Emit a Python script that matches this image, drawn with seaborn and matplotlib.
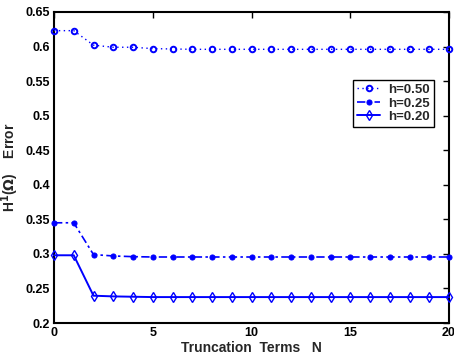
import matplotlib
matplotlib.use("Agg")
import matplotlib.pyplot as plt
import seaborn as sns
import pandas as pd
import numpy as np

sns.set_theme(style="white")
plt.rcParams['font.family'] = ['Liberation Sans', 'DejaVu Sans']
plt.rcParams['font.weight'] = 'bold'

N = list(range(21))
err_h050 = [0.623, 0.623, 0.602, 0.599, 0.599, 0.597, 0.5965, 0.596, 0.596, 0.596, 0.596,
            0.596, 0.596, 0.596, 0.596, 0.596, 0.596, 0.596, 0.596, 0.596, 0.596]
err_h025 = [0.345, 0.345, 0.299, 0.297, 0.296, 0.2955, 0.2955, 0.2955, 0.2955, 0.2955, 0.2955,
            0.2955, 0.2955, 0.2955, 0.2955, 0.2955, 0.2955, 0.2955, 0.2955, 0.2955, 0.2955]
err_h020 = [0.298, 0.298, 0.2395, 0.2385, 0.238, 0.2375, 0.2375, 0.2375, 0.2375, 0.2375, 0.2375,
            0.2375, 0.2375, 0.2375, 0.2375, 0.2375, 0.2375, 0.2375, 0.2375, 0.2375, 0.2375]
labels = ["h=0.50", "h=0.25", "h=0.20"]
xticks = [0, 5, 10, 15, 20]
yticks = [0.2, 0.25, 0.3, 0.35, 0.4, 0.45, 0.5, 0.55, 0.6, 0.65]

blue = (0, 0, 1)
fig = plt.figure(figsize=(4.54, 3.58), dpi=100)
ax = fig.add_axes([54/454, 1 - 323/358, 395/454, 311/358])

styles = [
    dict(linestyle=(0, (1, 2.5)), marker='o', markersize=4.0, markerfacecolor='none',
         markeredgewidth=1.4, linewidth=1.0),
    dict(linestyle=(0, (5, 2, 1.5, 2)), marker='o', markersize=3.6, markerfacecolor=blue,
         markeredgewidth=0.8, linewidth=1.2),
    dict(linestyle='-', marker='d', markersize=5.2, markerfacecolor='none',
         markeredgewidth=1.0, linewidth=1.4),
]
for vals, lab, st in zip([err_h050, err_h025, err_h020], labels, styles):
    df = pd.DataFrame({"N": N, "Error": vals})
    sns.lineplot(data=df, x="N", y="Error", ax=ax, color=blue, label=lab,
                 markeredgecolor=blue, clip_on=False, zorder=3, **st)

ax.set_xlim(0, 20)
ax.set_ylim(0.2, 0.65)
ax.set_xticks(xticks)
ax.set_yticks(yticks)
ax.set_yticklabels([f"{v:g}" for v in yticks])
ax.tick_params(direction='in', length=4, width=1, top=True, right=True,
               labelsize=9, pad=3, colors='black')
for lab in ax.get_xticklabels() + ax.get_yticklabels():
    lab.set_fontweight('bold')
for sp in ax.spines.values():
    sp.set_color('black')
    sp.set_linewidth(1.5)

ax.set_xlabel("Truncation  Terms   N", fontsize=10, fontweight='bold', labelpad=1)
ax.set_ylabel(r"H$^\mathbf{1}$($\Omega$)    Error", fontsize=10, fontweight='bold', labelpad=3)

leg = ax.legend(loc='upper right', bbox_to_anchor=(0.962, 0.782), fontsize=9.5,
                frameon=True, fancybox=False, edgecolor='black', framealpha=1,
                borderpad=0.3, labelspacing=0.1, handlelength=1.8, handletextpad=0.6,
                borderaxespad=0)
leg.get_frame().set_linewidth(1.0)
for t in leg.get_texts():
    t.set_fontweight('bold')

fig.savefig("out.png", dpi=100)
